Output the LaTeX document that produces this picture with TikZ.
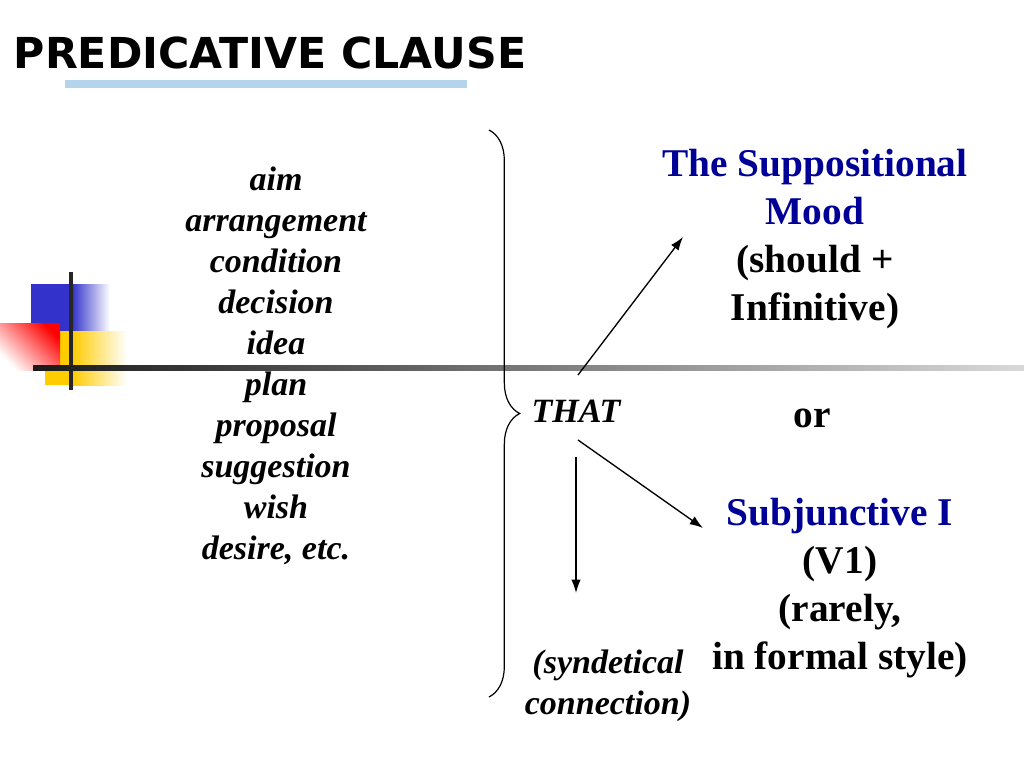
\documentclass[tikz,border=0pt]{standalone}
\usepackage{fontspec}
\setmainfont{Liberation Serif}
\newfontfamily\titlefont{DejaVu Sans}
\usetikzlibrary{decorations.pathreplacing,arrows.meta}
\definecolor{moodblue}{RGB}{0,0,150}
\definecolor{barblue}{RGB}{51,51,204}
\definecolor{baryellow}{RGB}{255,204,0}
\definecolor{underblue}{RGB}{180,212,235}

\tikzset{
  listtext/.style={font=\bfseries\itshape\fontsize{25.5}{30.75}\selectfont,align=center},
  moodtext/.style={font=\bfseries\fontsize{29.5}{36}\selectfont,align=center},
}

\begin{document}
\begin{tikzpicture}[x=0.75pt,y=-0.75pt,>={Latex[length=10pt,width=7pt]}]
  \useasboundingbox (0,0) rectangle (1024,767);
  % title
  \node[font=\titlefont\bfseries\fontsize{32}{38}\selectfont] (title) at (270,53) {PREDICATIVE CLAUSE};
  \fill[underblue] (65,80) rectangle (467,88);
  % coloured blocks
  \fill[barblue] (31,284) rectangle (72,331);
  \shade[left color=barblue,right color=white] (72,284) rectangle (110,331);
  \fill[baryellow] (45,331) rectangle (72,385);
  \shade[left color=baryellow,right color=white] (72,331) rectangle (127,385);
  \shade[shading=axis,top color=red,bottom color=white,shading angle=-45] (0,323) rectangle (60,370);
  \fill[black!85] (69,272) rectangle (73,390);
  \shade[left color=black!90,right color=black!15] (33,365) rectangle (1024,370);
  % nouns
  \node[listtext] (nouns) at (276,366) {aim\\arrangement\\condition\\decision\\idea\\plan\\proposal\\suggestion\\wish\\desire, etc.};
  \draw[line width=0.9pt,decorate,decoration={brace,amplitude=23pt}] (489,130) -- (489,697);
  \node[listtext] (that) at (576,411) {THAT};
  % results
  \node[moodtext] (mood) at (815,239) {\textcolor{moodblue}{The Suppositional}\\\textcolor{moodblue}{Mood}\\(should +\\Infinitive)};
  \node[moodtext] (or) at (812,418) {or};
  \node[moodtext] (subj) at (840,588) {\textcolor{moodblue}{Subjunctive I}\\(V1)\\(rarely,\\in formal style)};
  \node[listtext] (synd) at (608,686) {(syndetical\\connection)};
  \coordinate (up) at (578,375);
  \coordinate (down) at (578,440);
  \coordinate (vert) at (576,457);
  \coordinate (upend) at (683,237);
  \coordinate (downend) at (703,528);
  \coordinate (vertend) at (576,593);
  \draw[->,line width=1pt] (up) -- (upend);
  \draw[->,line width=1pt] (down) -- (downend);
  \draw[->,line width=1pt] (vert) -- (vertend);
\end{tikzpicture}
\end{document}
